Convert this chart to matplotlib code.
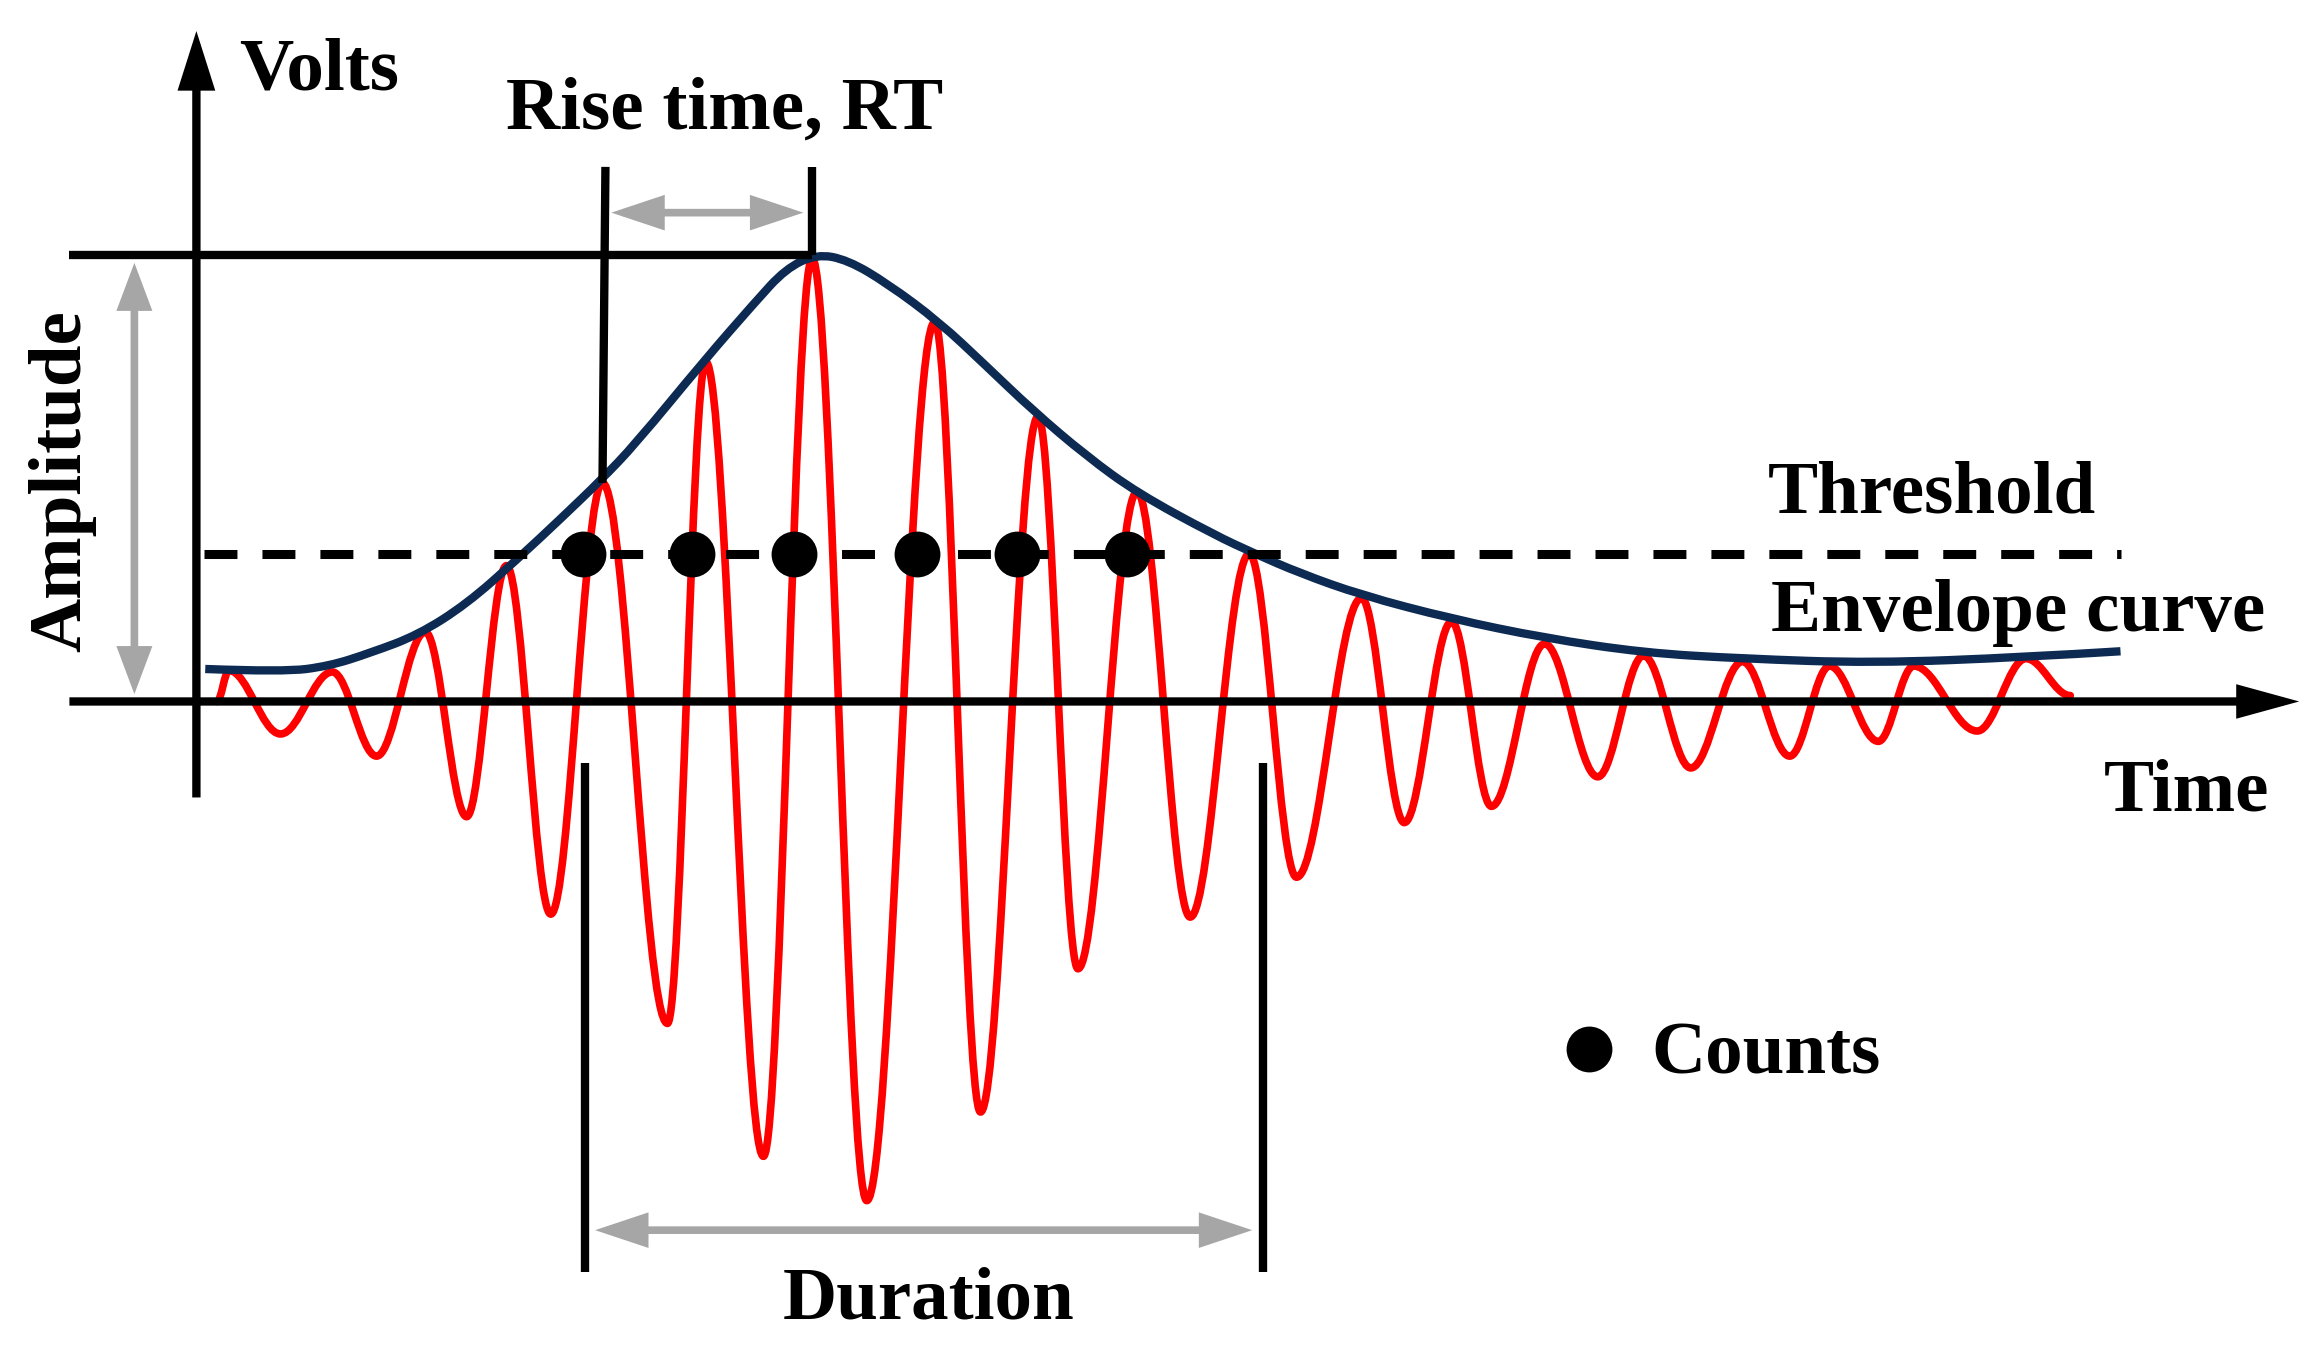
import numpy as np
import matplotlib
matplotlib.use("Agg")
import matplotlib.pyplot as plt
from matplotlib.path import Path
from matplotlib.patches import PathPatch, FancyArrowPatch, ArrowStyle

# red AE waveform: successive extrema (time, volts)
wave_t = [0.14, 0.22, 0.57, 0.92, 1.22, 1.55, 1.83, 2.10, 2.40, 2.75,
          3.19, 3.45, 3.84, 4.17, 4.54, 5.00, 5.31, 5.70, 5.97, 6.37,
          6.73, 7.13, 7.45, 7.89, 8.18, 8.50, 8.77, 9.13, 9.49, 9.80,
          10.12, 10.47, 10.79, 11.06, 11.39, 11.63, 12.06, 12.39, 12.69]
wave_v = [0.00, 0.21, -0.22, 0.20, -0.37, 0.47, -0.78, 0.92, -1.44, 1.48,
          -2.18, 2.30, -3.08, 3.00, -3.38, 2.57, -2.78, 1.93, -1.81, 1.42,
          -1.46, 1.00, -1.19, 0.70, -0.82, 0.54, -0.71, 0.39, -0.51, 0.31,
          -0.45, 0.27, -0.37, 0.24, -0.27, 0.24, -0.20, 0.29, 0.04]

# envelope curve
env_t = [0.06, 0.59, 0.90, 1.18, 1.50, 1.83, 2.17, 2.48, 2.74, 2.97, 3.44,
         3.78, 3.99, 4.20, 4.41, 4.68, 5.03, 5.34, 5.665, 6.03, 6.375, 6.89,
         7.17, 7.47, 7.89, 8.50, 9.13, 9.80, 10.47, 11.35, 12.39, 13.03]
env_v = [0.22, 0.20, 0.24, 0.33, 0.45, 0.66, 0.96, 1.25, 1.50, 1.74, 2.31,
         2.70, 2.93, 3.03, 2.99, 2.83, 2.57, 2.28, 1.97, 1.66, 1.41, 1.13,
         1.00, 0.87, 0.72, 0.56, 0.43, 0.33, 0.29, 0.26, 0.30, 0.34]

threshold = 1.00
threshold_span = [0.05, 13.03]
count_t = [2.62, 3.355, 4.05, 4.88, 5.56, 6.30]

peak_t, peak_v = 4.17, 3.02          # maximum amplitude
rt_start = (2.75, 1.48)              # first threshold crossing on envelope
duration_t = [2.63, 7.22]

RED = "#ff0000"
NAVY = "#0d2b52"
GRAY = "#a6a6a6"
FONT = dict(family="Liberation Serif", weight="bold", size=54)
LW = 6


def wave_path(ts, vs, k=0.364):
    # half-cosine between neighbouring extrema as cubic beziers
    verts = [(ts[0], vs[0])]
    codes = [Path.MOVETO]
    for t0, v0, t1, v1 in zip(ts[:-1], vs[:-1], ts[1:], vs[1:]):
        dt = t1 - t0
        verts += [(t0 + k * dt, v0), (t1 - k * dt, v1), (t1, v1)]
        codes += [Path.CURVE4] * 3
    return Path(verts, codes)


def smooth_path(ts, vs):
    # quadratic b-spline: read points act as control points
    p = np.column_stack([ts, vs])
    n = len(p)
    verts = [tuple(p[0])]
    codes = [Path.MOVETO]
    for i in range(1, n - 1):
        end = p[i + 1] if i == n - 2 else (p[i] + p[i + 1]) / 2
        verts += [tuple(p[i]), tuple(end)]
        codes += [Path.CURVE3] * 2
    return Path(verts, codes)


def arrow(ax, a, b, style, color, lw, hl, hw, z=5):
    ax.add_patch(FancyArrowPatch(a, b, arrowstyle=ArrowStyle(style, head_length=hl, head_width=hw),
                                 mutation_scale=1, color=color, lw=lw, joinstyle="miter",
                                 capstyle="butt", shrinkA=0, shrinkB=0, zorder=z))


fig = plt.figure(figsize=(23.11, 13.52), dpi=100)
ax = fig.add_axes([0, 0, 1, 1])
ax.set_xlim(-1.33, 14.32)
ax.set_ylim(-4.405, 4.75)
ax.axis("off")

# waveform and envelope
ax.add_patch(PathPatch(wave_path(wave_t, wave_v), fill=False, ec=RED, lw=5.5,
                       joinstyle="round", capstyle="round", zorder=2))
ax.add_patch(PathPatch(smooth_path(env_t, env_v), fill=False, ec=NAVY, lw=6,
                       joinstyle="round", capstyle="butt", zorder=3))

# threshold
ax.plot(threshold_span, [threshold, threshold], color="black", lw=6.5,
        dashes=(3.65, 2.77), dash_capstyle="butt", zorder=3)

# axes with arrow heads
arrow(ax, (0, -0.65), (0, 4.54), "-|>", "black", LW, 30, 9.5)
arrow(ax, (-0.86, 0), (14.24, 0), "-|>", "black", LW, 31, 8.5)

# amplitude marker
ax.plot([-0.86, peak_t], [peak_v, peak_v], color="black", lw=LW,
        solid_capstyle="butt", zorder=4)
arrow(ax, (-0.42, 0.05), (-0.42, peak_v - 0.05), "<|-|>", GRAY, 5.5, 24, 9)

# rise time
ax.plot([rt_start[0] + 0.02, rt_start[0]], [3.62, rt_start[1]], color="black", lw=LW,
        solid_capstyle="butt", zorder=4)
ax.plot([peak_t, peak_t], [3.62, peak_v], color="black", lw=LW,
        solid_capstyle="butt", zorder=4)
arrow(ax, (rt_start[0] + 0.06, 3.31), (peak_t - 0.06, 3.31), "<|-|>", GRAY, 5.5, 27, 9)

# duration
for t in duration_t:
    ax.plot([t, t], [-0.42, -3.86], color="black", lw=LW, solid_capstyle="butt", zorder=4)
arrow(ax, (duration_t[0] + 0.07, -3.58), (duration_t[1] - 0.07, -3.58), "<|-|>", GRAY, 5.5, 27, 9)

# counts
ax.plot(count_t, [threshold] * len(count_t), "o", color="black", ms=33, mew=0, zorder=6)
ax.plot([9.43], [-2.35], "o", color="black", ms=33, mew=0, zorder=6)

# labels
ax.text(0.29, 4.145, "Volts", ha="left", va="baseline", **FONT)
ax.text(3.58, 3.88, "Rise time, RT", ha="center", va="baseline", **FONT)
ax.text(-0.91, 1.49, "Amplitude", rotation=90, ha="center", va="center", **FONT)
ax.text(10.64, 1.28, "Threshold", ha="left", va="baseline", **FONT)
ax.text(10.66, 0.48, "Envelope curve", ha="left", va="baseline", **FONT)
ax.text(12.92, -0.74, "Time", ha="left", va="baseline", **FONT)
ax.text(9.855, -2.52, "Counts", ha="left", va="baseline", **FONT)
ax.text(4.96, -4.175, "Duration", ha="center", va="baseline", **FONT)

fig.savefig("out.png", dpi=100, facecolor="white")
